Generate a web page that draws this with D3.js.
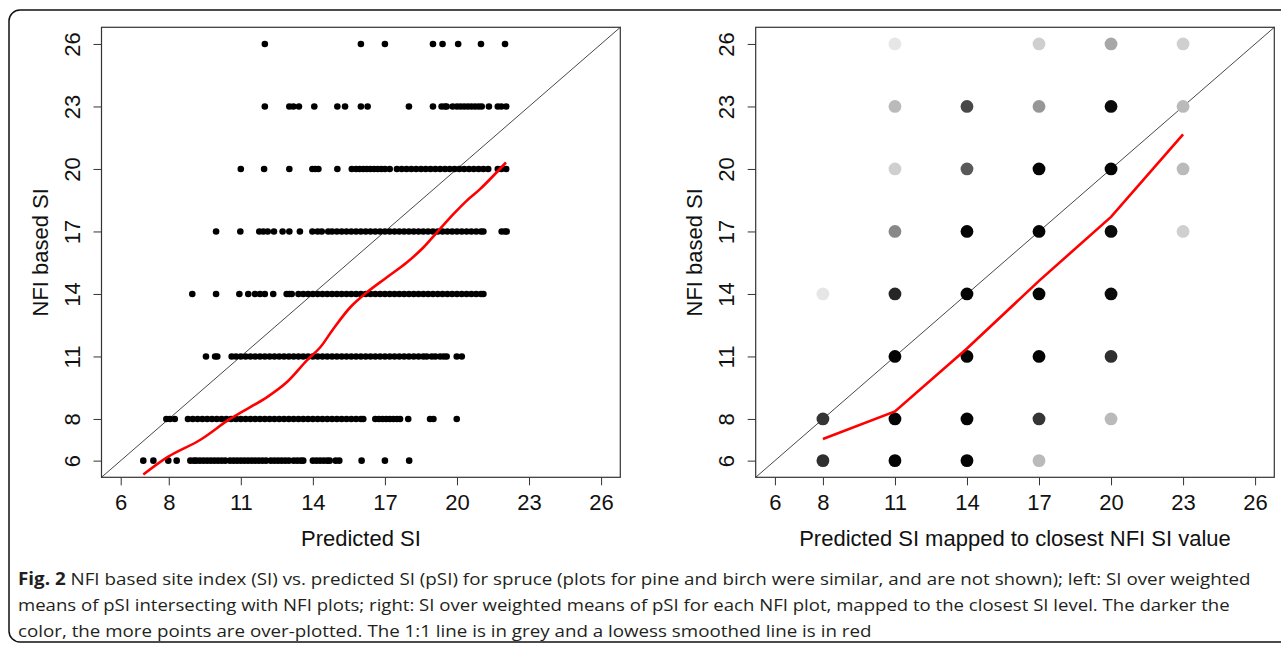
<!DOCTYPE html>
<html><head><meta charset="utf-8">
<script src="https://cdn.jsdelivr.net/npm/d3@7"></script>
<style>body{margin:0;background:#fff}svg{display:block}</style>
</head><body><svg id="c" width="1281" height="647"></svg>
<script>
// ---------- data ----------
const xTicks = [6, 8, 11, 14, 17, 20, 23, 26];
const yTicks = [6, 8, 11, 14, 17, 20, 23, 26];

// Left panel: NFI SI levels and predicted SI values of plotted points on each level
const row6 = [6.94, 7.36, 7.98, 8.33, 8.9, 9.05, 9.15, 9.3, 9.45, 9.6, 9.75, 9.9, 10.05, 10.2, 10.35, 10.55, 10.7, 10.85, 11.0, 11.15, 11.3, 11.45, 11.6, 11.75, 11.9, 12.05, 12.25, 12.4, 12.55, 12.7, 12.85, 13.0, 13.2, 13.35, 13.5, 13.6, 14.0, 14.15, 14.3, 14.45, 14.6, 14.7, 14.95, 15.1, 16.03, 17.0, 18.01];
const row8 = [7.9, 8.05, 8.25, 8.8, 9.0, 9.2, 9.4, 9.6, 9.8, 10.0, 10.2, 10.4, 10.6, 10.8, 11.0, 11.2, 11.4, 11.6, 11.8, 12.0, 12.2, 12.4, 12.6, 12.8, 13.0, 13.2, 13.4, 13.6, 13.8, 14.0, 14.2, 14.4, 14.6, 14.8, 15.0, 15.2, 15.4, 15.6, 15.8, 16.0, 16.1, 16.6, 16.75, 16.9, 17.05, 17.2, 17.35, 17.5, 17.63, 17.97, 18.88, 19.02, 19.99];
const row11 = [9.55, 9.93, 10.02, 10.62, 10.8, 11.0, 11.2, 11.4, 11.6, 11.8, 12.0, 12.2, 12.4, 12.6, 12.8, 13.0, 13.2, 13.4, 13.6, 13.8, 14.0, 14.2, 14.4, 14.6, 14.8, 15.0, 15.2, 15.4, 15.6, 15.8, 16.0, 16.2, 16.4, 16.6, 16.8, 17.0, 17.2, 17.4, 17.6, 17.8, 18.0, 18.2, 18.4, 18.6, 18.74, 18.95, 19.1, 19.3, 19.45, 19.57, 19.99, 20.2];
const row14 = [8.98, 9.97, 10.94, 11.31, 11.59, 11.8, 12.0, 12.35, 12.91, 13.02, 13.12, 13.4, 13.6, 13.8, 14.0, 14.2, 14.4, 14.6, 14.8, 15.0, 15.2, 15.4, 15.6, 15.8, 16.0, 16.2, 16.4, 16.6, 16.8, 17.0, 17.2, 17.4, 17.6, 17.8, 18.0, 18.2, 18.4, 18.6, 18.8, 19.0, 19.2, 19.4, 19.6, 19.8, 20.0, 20.2, 20.4, 20.6, 20.8, 21.0, 21.1];
const row17 = [9.97, 10.98, 11.77, 11.94, 12.12, 12.38, 12.74, 13.02, 13.46, 13.98, 14.2, 14.37, 14.64, 14.8, 15.0, 15.2, 15.4, 15.6, 15.8, 16.0, 16.2, 16.4, 16.6, 16.8, 17.0, 17.2, 17.4, 17.6, 17.8, 18.0, 18.2, 18.4, 18.6, 18.8, 19.0, 19.2, 19.4, 19.6, 19.8, 20.0, 20.2, 20.4, 20.6, 20.8, 21.0, 21.1, 21.86, 22.0, 22.07];
const row20 = [11.0, 11.97, 13.02, 13.98, 14.1, 14.23, 15.02, 15.62, 15.8, 15.95, 16.1, 16.25, 16.4, 16.55, 16.7, 16.85, 17.0, 17.2, 17.5, 17.7, 17.9, 18.1, 18.3, 18.5, 18.7, 18.9, 19.1, 19.3, 19.5, 19.7, 19.9, 20.1, 20.3, 20.5, 20.7, 20.9, 21.1, 21.3, 21.7, 21.85, 22.05];
const row23 = [12.0, 13.02, 13.19, 13.42, 14.06, 15.02, 15.34, 16.0, 16.28, 18.0, 19.0, 19.36, 19.5, 19.57, 19.82, 20.0, 20.15, 20.3, 20.45, 20.6, 20.75, 20.9, 21.03, 21.33, 21.7, 21.85, 22.05];
const row26 = [12.0, 16.0, 17.0, 19.0, 19.4, 20.05, 21.0, 22.0];
const leftRows = [[6, row6], [8, row8], [11, row11], [14, row14], [17, row17], [20, row20], [23, row23], [26, row26]];

const leftLowessX = [6.94, 7.98, 9.30, 10.55, 12.08, 12.91, 13.74, 14.30, 14.85, 15.55, 16.24, 17.07, 17.91, 18.60, 19.16, 19.85, 20.40, 20.96, 22.04];
const leftLowessY = [5.33, 6.19, 6.99, 8.00, 9.04, 9.76, 10.80, 11.43, 12.32, 13.35, 14.07, 14.79, 15.51, 16.23, 16.95, 17.83, 18.47, 19.03, 20.31];

// Right panel: mapped predicted SI, NFI SI, and estimated number of over-plotted points
const rightX     = [11, 17, 20, 23,  11, 14, 17, 20, 23,  11, 14, 17, 20, 23,  11, 14, 17, 20, 23,  8, 11, 14, 17, 20,  11, 14, 17, 20,  8, 11, 14, 17, 20,  8, 11, 14, 17];
const rightY     = [26, 26, 26, 26,  23, 23, 23, 23, 23,  20, 20, 20, 20, 20,  17, 17, 17, 17, 17,  14, 14, 14, 14, 14,  11, 11, 11, 11,  8, 8, 8, 8, 8,  6, 6, 6, 6];
const rightCount = [1, 2, 4, 2,      3, 12, 5, 30, 3,     2, 10, 40, 40, 3,     6, 40, 40, 30, 2,     1, 18, 40, 40, 30,   40, 40, 40, 16,  15, 40, 40, 15, 3,  16, 40, 40, 3];

const rightLowessX = [8, 11, 14, 17, 20, 23];
const rightLowessY = [7.04, 8.36, 11.38, 14.63, 17.70, 21.66];

const captionBold = "Fig. 2";
const captionLines = [
  " NFI based site index (SI) vs. predicted SI (pSI) for spruce (plots for pine and birch were similar, and are not shown); left: SI over weighted",
  "means of pSI intersecting with NFI plots; right: SI over weighted means of pSI for each NFI plot, mapped to the closest SI level. The darker the",
  "color, the more points are over-plotted. The 1:1 line is in grey and a lowess smoothed line is in red"
];

// ---------- drawing ----------
const svg = d3.select("#c");
const FONT = "'Liberation Sans', Arial, sans-serif";
const plotTop = 27.3, plotBottom = 477.3;
const domain = [5.2, 26.8];

svg.append("rect").attr("x", 9).attr("y", 10).attr("width", 1300).attr("height", 632)
  .attr("rx", 11).attr("fill", "none").attr("stroke", "#111").attr("stroke-width", 1.5);

function panel(x0, x1, xTitle) {
  const x = d3.scaleLinear().domain(domain).range([x0, x1]);
  const y = d3.scaleLinear().domain(domain).range([plotBottom, plotTop]);
  const g = svg.append("g");
  g.append("line").attr("x1", x(domain[0])).attr("y1", y(domain[0]))
    .attr("x2", x(domain[1])).attr("y2", y(domain[1]))
    .attr("stroke", "#333").attr("stroke-width", 0.9);
  const ax = g.append("g").attr("transform", `translate(0,${plotBottom})`)
    .call(d3.axisBottom(x).tickValues(xTicks).tickSize(8).tickPadding(9.5).tickFormat(d3.format("d")));
  ax.select(".domain").remove();
  ax.selectAll("line").attr("stroke", "#333");
  ax.selectAll("text").attr("font-family", FONT).attr("font-size", 22).attr("fill", "#111");
  const ay = g.append("g").attr("transform", `translate(${x0},0)`)
    .call(d3.axisLeft(y).tickValues(yTicks).tickSize(8).tickFormat(d3.format("d")));
  ay.select(".domain").remove();
  ay.selectAll("line").attr("stroke", "#333");
  ay.selectAll("text").attr("x", null).attr("dy", null)
    .attr("transform", "translate(-29,0) rotate(-90)")
    .attr("text-anchor", "middle").attr("dominant-baseline", "central")
    .attr("font-family", FONT).attr("font-size", 22).attr("fill", "#111");
  g.append("text").attr("x", (x0 + x1) / 2).attr("y", 546).attr("text-anchor", "middle")
    .attr("font-family", FONT).attr("font-size", 22).attr("fill", "#111").text(xTitle);
  g.append("text").attr("transform", `translate(${x0 - 61},${(plotTop + plotBottom) / 2}) rotate(-90)`)
    .attr("text-anchor", "middle").attr("dominant-baseline", "central")
    .attr("font-family", FONT).attr("font-size", 22).attr("fill", "#111").text("NFI based SI");
  return {g, x, y, x0, x1};
}

// Left panel
const L = panel(101.5, 620.3, "Predicted SI");
const leftPts = leftRows.flatMap(([lvl, xs]) => xs.map(v => ({x: v, y: lvl})));
L.g.append("g").selectAll("circle").data(leftPts).join("circle")
  .attr("cx", d => L.x(d.x)).attr("cy", d => L.y(d.y)).attr("r", 3.3).attr("fill", "#000");
L.g.append("path").datum(leftLowessX.map((v, i) => [v, leftLowessY[i]]))
  .attr("d", d3.line().x(d => L.x(d[0])).y(d => L.y(d[1])).curve(d3.curveCatmullRom))
  .attr("fill", "none").attr("stroke", "#ff0000").attr("stroke-width", 2.6);
L.g.append("rect").attr("x", L.x0).attr("y", plotTop).attr("width", L.x1 - L.x0).attr("height", plotBottom - plotTop)
  .attr("fill", "none").attr("stroke", "#333").attr("stroke-width", 1.2);

// Right panel
const R = panel(755.7, 1274.3, "Predicted SI mapped to closest NFI SI value");
const rightPts = rightX.map((v, i) => ({x: v, y: rightY[i], n: rightCount[i]}));
const alpha = 0.1;
R.g.append("g").selectAll("circle").data(rightPts).join("circle")
  .attr("cx", d => R.x(d.x)).attr("cy", d => R.y(d.y)).attr("r", 6.4)
  .attr("fill", d => { const v = Math.round(255 * Math.pow(1 - alpha, d.n)); return d3.rgb(v, v, v); });
R.g.append("path").datum(rightLowessX.map((v, i) => [v, rightLowessY[i]]))
  .attr("d", d3.line().x(d => R.x(d[0])).y(d => R.y(d[1])))
  .attr("fill", "none").attr("stroke", "#ff0000").attr("stroke-width", 2.6);
R.g.append("rect").attr("x", R.x0).attr("y", plotTop).attr("width", R.x1 - R.x0).attr("height", plotBottom - plotTop)
  .attr("fill", "none").attr("stroke", "#333").attr("stroke-width", 1.2);

// Caption
const capFont = "'Open Sans', 'Noto Sans', sans-serif";
const baselines = [585, 611, 637];
const targets = [1234, 1212, 854];
captionLines.forEach((line, i) => {
  const t = svg.append("text").attr("x", 0).attr("y", 0)
    .attr("font-family", capFont).attr("font-size", 17).attr("fill", "#231f20");
  if (i === 0) t.append("tspan").attr("font-weight", "bold").text(captionBold);
  t.append("tspan").text(line);
  const w = t.node().getComputedTextLength();
  const sx = targets[i] / w;
  t.attr("transform", `translate(18,${baselines[i]}) scale(${sx},1)`);
});
</script></body></html>
